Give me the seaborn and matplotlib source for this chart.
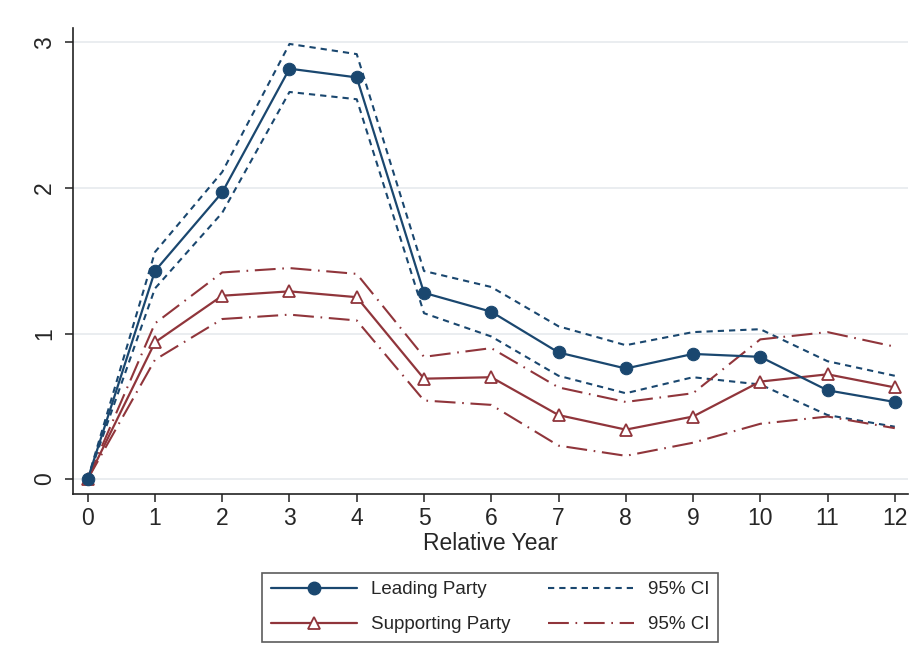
import numpy as np
import pandas as pd
import matplotlib
matplotlib.use("Agg")
import matplotlib.pyplot as plt
from matplotlib.lines import Line2D
import seaborn as sns

years = list(range(13))

leading = [0.0, 1.43, 1.97, 2.82, 2.76, 1.28, 1.15, 0.87, 0.76, 0.86, 0.84, 0.61, 0.53]
leading_hi = [0.0, 1.56, 2.11, 2.99, 2.92, 1.43, 1.32, 1.05, 0.92, 1.01, 1.03, 0.81, 0.71]
leading_lo = [0.0, 1.31, 1.83, 2.66, 2.61, 1.14, 0.98, 0.71, 0.59, 0.70, 0.65, 0.44, 0.36]

supporting = [0.0, 0.94, 1.26, 1.29, 1.25, 0.69, 0.70, 0.44, 0.34, 0.43, 0.67, 0.72, 0.63]
supporting_hi = [0.0, 1.07, 1.42, 1.45, 1.41, 0.84, 0.90, 0.63, 0.53, 0.59, 0.96, 1.01, 0.91]
supporting_lo = [0.0, 0.82, 1.10, 1.13, 1.09, 0.54, 0.51, 0.23, 0.16, 0.25, 0.38, 0.43, 0.35]

ytick_vals = [0, 1, 2, 3]

NAVY = "#1a476f"
MAROON = "#90353b"

sns.set_theme(style="white")
plt.rcParams["font.family"] = ["Liberation Sans", "DejaVu Sans"]

df = pd.DataFrame({
    "year": years,
    "leading": leading, "leading_hi": leading_hi, "leading_lo": leading_lo,
    "supporting": supporting, "supporting_hi": supporting_hi, "supporting_lo": supporting_lo,
})

fig = plt.figure(figsize=(9.23, 6.65), dpi=100)
ax = fig.add_axes([0.079, 0.257, 0.905, 0.701])

ci_navy = (0, (3.0, 2.4))
ci_maroon = (0, (10, 3.2, 0.8, 3.2))

for col in ["leading_hi", "leading_lo"]:
    sns.lineplot(data=df, x="year", y=col, ax=ax, color=NAVY, lw=1.5,
                 linestyle=ci_navy)
for col in ["supporting_hi", "supporting_lo"]:
    sns.lineplot(data=df, x="year", y=col, ax=ax, color=MAROON, lw=1.5,
                 linestyle=ci_maroon)

sns.lineplot(data=df, x="year", y="supporting", ax=ax, color=MAROON, lw=1.6,
             marker="^", markersize=8, markerfacecolor="white",
             markeredgecolor=MAROON, markeredgewidth=1.3)
sns.lineplot(data=df, x="year", y="leading", ax=ax, color=NAVY, lw=1.6,
             marker="o", markersize=9, markerfacecolor=NAVY,
             markeredgecolor=NAVY)

ax.set_xlim(-0.22, 12.2)
ax.set_ylim(-0.103, 3.1)
ax.set_xticks(years)
ax.set_yticks(ytick_vals)
ax.set_xticklabels([str(y) for y in years], fontsize=16.5)
ax.set_yticklabels([str(v) for v in ytick_vals], fontsize=16.5, rotation=90,
                   va="center")
ax.set_xlabel("Relative Year", fontsize=16.5, labelpad=2)
ax.set_ylabel("")

ax.grid(axis="y", color="#e8ecef", lw=1.3)
ax.set_axisbelow(True)
for side in ["top", "right"]:
    ax.spines[side].set_visible(False)
for side in ["left", "bottom"]:
    ax.spines[side].set_color("#222222")
    ax.spines[side].set_linewidth(1.2)
ax.tick_params(axis="x", which="both", direction="out", length=6,
               width=1.1, color="#222222", pad=3, bottom=True)
ax.tick_params(axis="y", which="both", direction="out", length=6,
               width=1.1, color="#222222", pad=6, left=True)

handles = [
    Line2D([], [], color=NAVY, lw=1.6, marker="o", markersize=9,
           markerfacecolor=NAVY),
    Line2D([], [], color=MAROON, lw=1.6, marker="^", markersize=8,
           markerfacecolor="white", markeredgecolor=MAROON,
           markeredgewidth=1.3),
    Line2D([], [], color=NAVY, lw=1.5, linestyle=ci_navy),
    Line2D([], [], color=MAROON, lw=1.5, linestyle=ci_maroon),
]
labels = ["Leading Party", "Supporting Party", "95% CI", "95% CI"]
leg = fig.legend(handles, labels, loc="center", bbox_to_anchor=(0.531, 0.087),
                 ncol=2, fontsize=13.5, frameon=True, fancybox=False,
                 edgecolor="#333333", handlelength=4.6, columnspacing=2.0,
                 handletextpad=0.75, labelspacing=0.95, borderpad=0.45)
leg.get_frame().set_linewidth(1.2)

fig.savefig("out.png", dpi=100, facecolor="white")
